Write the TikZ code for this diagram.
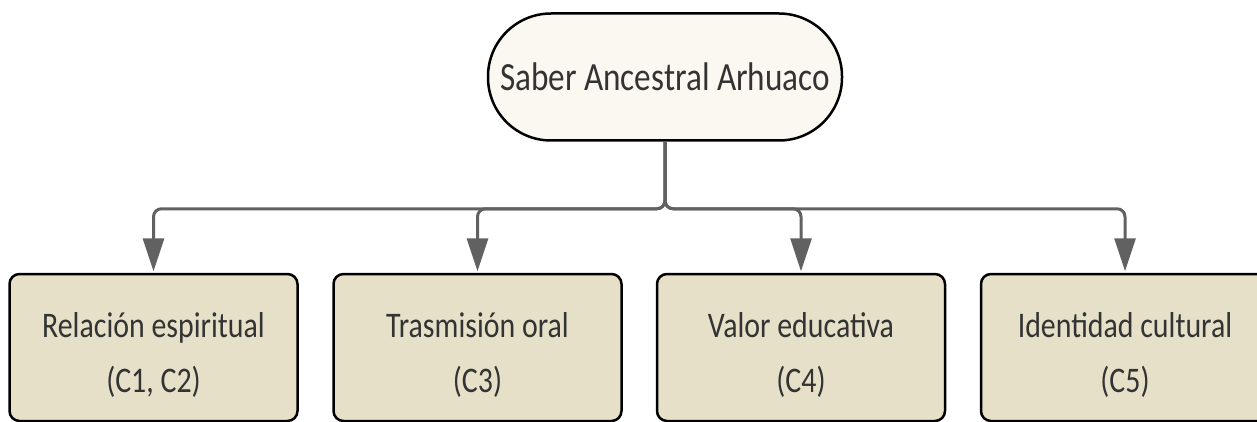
\documentclass[tikz,border=0pt]{standalone}
\usepackage{fontspec}
\setmainfont[FakeStretch=0.83]{Carlito}
\usepackage{xcolor}
\usepackage{tikz}
\usetikzlibrary{arrows.meta}
\definecolor{pillfill}{HTML}{FBF8F1}
\definecolor{boxfill}{HTML}{E6E0C8}
\definecolor{linkgray}{HTML}{616161}
\definecolor{textgray}{HTML}{333333}
\newcommand\LeafStrut{\rule{0pt}{40pt}}
\tikzset{
  rootpill/.style={
    draw = black,
    line width = 2.5pt,
    fill = pillfill,
    rounded corners = 63pt,
    minimum width = 354pt,
    minimum height = 127pt,
    text = textgray,
    font = \fontsize{40}{48}\selectfont
  },
  leafbox/.style={
    draw = black,
    line width = 2.5pt,
    fill = boxfill,
    rounded corners = 10pt,
    minimum width = 288pt,
    minimum height = 147pt,
    align = center,
    text = textgray,
    font = \fontsize{36}{55}\selectfont
  },
  link/.style={
    draw = linkgray,
    line width = 3pt,
    rounded corners = 8pt,
    -{Triangle[width=21pt, length=33pt]},
    shorten > = 1.5pt
  }
}

\begin{document}
\begin{tikzpicture}[x=1pt, y=-1pt]
\newcommand\XRoot{665}
\newcommand\YRoot{77}
\newcommand\YLeaf{347.5}
\useasboundingbox (0,0) rectangle (1257,422);
\node[rootpill] (A1) at (\XRoot,\YRoot) {Saber Ancestral Arhuaco};
\node[leafbox] (B1) at (153.5,\YLeaf) {\LeafStrut Relación espiritual\\(C1, C2)};
\node[leafbox] (B2) at (477.5,\YLeaf) {\LeafStrut Trasmisión oral\\(C3)};
\node[leafbox] (B3) at (801,\YLeaf) {\LeafStrut Valor educativa\\(C4)};
\node[leafbox] (B4) at (1125,\YLeaf) {\LeafStrut Identidad cultural\\(C5)};

\draw[link] (A1.south) -- ++(0,67) -| (B1.north);
\draw[link] (A1.south) -- ++(0,67) -| (B2.north);
\draw[link] (A1.south) -- ++(0,67) -| (B3.north);
\draw[link] (A1.south) -- ++(0,67) -| (B4.north);
\end{tikzpicture}
\end{document}
